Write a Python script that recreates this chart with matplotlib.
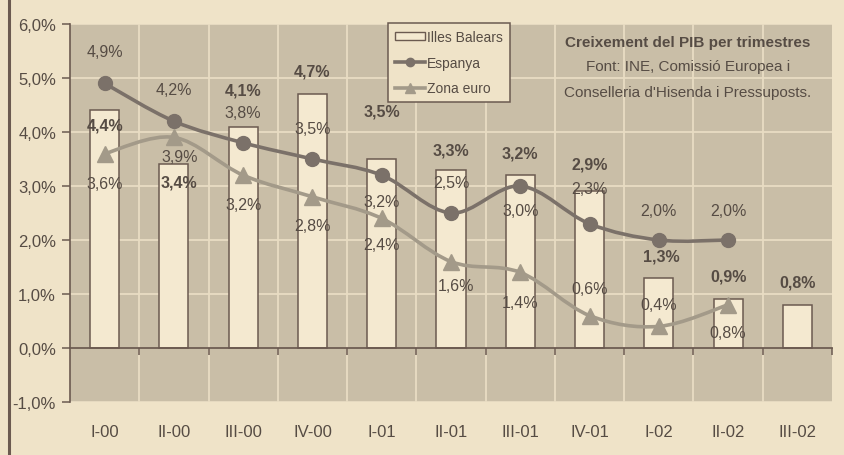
import numpy as np
import matplotlib
matplotlib.use("Agg")
import matplotlib.pyplot as plt
from matplotlib import font_manager
from matplotlib.path import Path
from matplotlib.patches import PathPatch, Patch
from matplotlib.lines import Line2D

# dades: creixement del PIB per trimestres (%)
trimestres = ["I-00", "II-00", "III-00", "IV-00", "I-01", "II-01", "III-01",
              "IV-01", "I-02", "II-02", "III-02"]
balears = [4.4, 3.4, 4.1, 4.7, 3.5, 3.3, 3.2, 2.9, 1.3, 0.9, 0.8]
espanya = [4.9, 4.2, 3.8, 3.5, 3.2, 2.5, 3.0, 2.3, 2.0, 2.0]
zona_euro = [3.6, 3.9, 3.2, 2.8, 2.4, 1.6, 1.4, 0.6, 0.4, 0.8]

# desplaçament de les etiquetes (pixels)
off_bal = [(0, -15), (5, -18), (0, 37), (0, 23), (0, 48), (0, 20), (0, 22),
           (0, 27), (2, 22), (0, 23), (0, 23)]
off_esp = [(0, 32), (0, 32), (0, 30), (0, 31), (0, -26), (0, 31), (0, -24),
           (0, 35), (0, 30), (0, 30)]
off_eur = [(0, -30), (6, -19), (0, -29), (0, -29), (0, -26), (5, -24),
           (0, -30), (0, 27), (0, 22), (0, -28)]

BG = "#efe3c8"
PANEL = "#c9bea7"
GRID = "#e9ddc3"
BAR = "#f4e9d0"
EDGE = "#6b5a50"
C_ESP = "#7b7169"
C_EUR = "#a39a89"
TXT = "#564c44"

noms = {f.name for f in font_manager.fontManager.ttflist}
fam = "Liberation Sans Narrow" if "Liberation Sans Narrow" in noms else "Liberation Sans"
plt.rcParams["font.family"] = [fam, "DejaVu Sans"]
plt.rcParams["text.color"] = TXT


def pct(v):
    return f"{v:.1f}".replace(".", ",") + "%"


def corba(ax, xs, ys, color):
    # corba suau (Catmull-Rom) que passa pels punts
    p = np.column_stack([xs, ys]).astype(float)
    ext = np.vstack([p[0], p, p[-1]])
    verts = [tuple(p[0])]
    codes = [Path.MOVETO]
    for i in range(len(p) - 1):
        p0, p1, p2, p3 = ext[i], ext[i + 1], ext[i + 2], ext[i + 3]
        c1 = p1 + (p2 - p0) / 6
        c2 = p2 - (p3 - p1) / 6
        verts += [tuple(c1), tuple(c2), tuple(p2)]
        codes += [Path.CURVE4] * 3
    ax.add_patch(PathPatch(Path(verts, codes), fill=False, edgecolor=color,
                           lw=2.6, zorder=3, capstyle="round"))


fig = plt.figure(figsize=(8.45, 4.56), dpi=100, facecolor=BG)
ax = fig.add_axes([70 / 845, 1 - 403 / 456, 762 / 845, 378 / 456])
ax.set_facecolor(PANEL)

x = np.arange(len(trimestres))
ax.bar(x, balears, width=0.42, color=BAR, edgecolor=EDGE, linewidth=1.1, zorder=2)

xe = x[:len(espanya)]
corba(ax, xe, espanya, C_ESP)
corba(ax, xe, zona_euro, C_EUR)
ax.plot(xe, espanya, "o", ms=10, color=C_ESP, zorder=4)
ax.plot(xe, zona_euro, "^", ms=11, color=C_EUR, zorder=4)

for xi, v, (dx, dy) in zip(x, balears, off_bal):
    ax.annotate(pct(v), (xi, v), xytext=(dx, dy), textcoords="offset pixels",
                ha="center", va="center", fontsize=11.5, fontweight="bold", zorder=5)
for xi, v, (dx, dy) in zip(xe, espanya, off_esp):
    ax.annotate(pct(v), (xi, v), xytext=(dx, dy), textcoords="offset pixels",
                ha="center", va="center", fontsize=11.5, zorder=5)
for xi, v, (dx, dy) in zip(xe, zona_euro, off_eur):
    ax.annotate(pct(v), (xi, v), xytext=(dx, dy), textcoords="offset pixels",
                ha="center", va="center", fontsize=11.5, zorder=5)

ax.set_xlim(-0.5, len(trimestres) - 0.5)
ax.set_ylim(-1, 6)

# quadrícula clara
for yv in range(-1, 7):
    ax.axhline(yv, color=GRID, lw=1.3, zorder=1)
for xb in np.arange(0.5, len(trimestres) - 0.5):
    ax.axvline(xb, color=GRID, lw=1.3, zorder=1)

for s in ["top", "right"]:
    ax.spines[s].set_visible(False)
ax.spines["left"].set_color(EDGE)
ax.spines["left"].set_linewidth(1.2)
# eix horitzontal a 0, amb marques entre trimestres
ax.spines["bottom"].set_position(("data", 0))
ax.spines["bottom"].set_color(EDGE)
ax.spines["bottom"].set_linewidth(1.3)
ax.spines["bottom"].set_zorder(2.5)

ax.set_yticks(range(-1, 7))
ax.set_yticklabels([pct(v) for v in range(-1, 7)], fontsize=12)
ax.tick_params(axis="y", direction="out", length=6, color=EDGE, width=1.1,
               labelcolor=TXT, pad=4)
ax.set_xticks(np.arange(0.5, len(trimestres) + 0.5))
ax.set_xticklabels([])
ax.tick_params(axis="x", direction="out", length=5, color=EDGE, width=1.1)

# noms dels trimestres sota el gràfic
for xi, nom in zip(x, trimestres):
    ax.text(xi, -30 / 378, nom, transform=ax.get_xaxis_transform(),
            ha="center", va="center", fontsize=12, color=TXT)

handles = [Patch(facecolor=BAR, edgecolor=EDGE, lw=1.0),
           Line2D([], [], color=C_ESP, lw=2.6, marker="o", ms=6),
           Line2D([], [], color=C_EUR, lw=2.6, marker="^", ms=7)]
leg = ax.legend(handles, ["Illes Balears", "Espanya", "Zona euro"],
                loc="upper left", bbox_to_anchor=(0.417, 1.003),
                borderaxespad=0, fancybox=False, framealpha=1,
                facecolor=BG, edgecolor=EDGE, fontsize=10,
                handlelength=2.2, handleheight=0.6, handletextpad=0.15,
                labelspacing=0.85, borderpad=0.5)
leg.get_frame().set_linewidth(1.1)
for t in leg.get_texts():
    t.set_color(TXT)

ax.text(0.811, 0.952, "Creixement del PIB per trimestres", transform=ax.transAxes,
        ha="center", va="center", fontsize=11, fontweight="bold", zorder=5)
ax.text(0.811, 0.889, "Font: INE, Comissió Europea i", transform=ax.transAxes,
        ha="center", va="center", fontsize=11, zorder=5)
ax.text(0.811, 0.820, "Conselleria d'Hisenda i Pressuposts.", transform=ax.transAxes,
        ha="center", va="center", fontsize=11, zorder=5)

# filet vertical de l'esquerra
fig.add_artist(Line2D([9 / 845, 9 / 845], [0, 1], color=EDGE, lw=2.2))

fig.savefig("out.png", dpi=100, facecolor=BG)
